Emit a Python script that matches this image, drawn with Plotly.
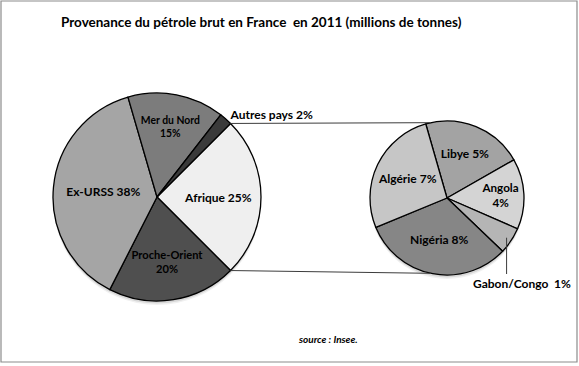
import math
import plotly.graph_objects as go

W, H = 579, 366

title_text = "Provenance du pétrole brut en France  en 2011 (millions de tonnes)"
source_text = "source : Insee."

# Main pie (percent of total)
main_labels = ["Afrique", "Proche-Orient", "Ex-URSS", "Mer du Nord", "Autres pays"]
main_values = [25, 20, 38, 15, 2]
main_text = ["Afrique 25%", "Proche-Orient<br>20%", "Ex-URSS 38%", "Mer du Nord<br>15%", "Autres pays 2%"]
main_colors = ["#efefef", "#4f4f4f", "#a5a5a5", "#7c7c7c", "#3a3a3a"]

# Secondary pie: breakdown of Afrique
afr_labels = ["Libye", "Angola", "Gabon/Congo", "Nigéria", "Algérie"]
afr_values = [5.3, 3.7, 1.4, 7.9, 6.7]
afr_text = ["Libye 5%", "Angola<br>4%", "Gabon/Congo  1%", "Nigéria 8%", "Algérie 7%"]
afr_colors = ["#a3a3a3", "#d4d4d4", "#b5b5b5", "#868686", "#c6c6c6"]

FONT = "Lato, 'Open Sans', sans-serif"

# geometry (pixels)
c1 = (157, 197); r1 = 104
c2 = (447, 198); r2 = 77

def dom(c, r):
    return dict(x=[(c[0] - r) / W, (c[0] + r) / W],
                y=[1 - (c[1] + r) / H, 1 - (c[1] - r) / H])

def px(x, y):
    return x / W, 1 - y / H

# Afrique slice is centred on 3 o'clock
afr_share = main_values[0] / sum(main_values)
half = afr_share * 180.0
rot_main = 90 - half

fig = go.Figure()
fig.add_trace(go.Pie(
    labels=main_labels, values=main_values, text=main_text,
    textinfo="text", sort=False, direction="clockwise", rotation=rot_main,
    textposition=["inside", "inside", "inside", "inside", "outside"],
    insidetextorientation="horizontal",
    marker=dict(colors=main_colors, line=dict(color="#000000", width=1.3)),
    textfont=dict(family=FONT, size=12, color="#000000", weight="bold"),
    domain=dom(c1, r1), showlegend=False, hoverinfo="label+value",
))
fig.add_trace(go.Pie(
    labels=afr_labels, values=afr_values, text=afr_text,
    textinfo="text", sort=False, direction="clockwise", rotation=-16,
    textposition=["inside", "inside", "none", "inside", "inside"],
    insidetextorientation="horizontal",
    marker=dict(colors=afr_colors, line=dict(color="#000000", width=1.3)),
    textfont=dict(family=FONT, size=12, color="#000000", weight="bold"),
    domain=dom(c2, r2), showlegend=False, hoverinfo="label+value",
))

shapes = []
# frame
shapes.append(dict(type="rect", xref="paper", yref="paper",
                   x0=1 / W, x1=577 / W, y0=1 - 362 / H, y1=1 - 1 / H,
                   line=dict(color="#8c8c8c", width=1.2)))
# soft shadows under the pies
for c, r in [(c1, r1), (c2, r2)]:
    for dy, op in [(4, 0.06), (2.5, 0.10)]:
        x0, y1 = px(c[0] - r, c[1] - r + dy)
        x1, y0 = px(c[0] + r, c[1] + r + dy)
        shapes.append(dict(type="circle", xref="paper", yref="paper", layer="below",
                           x0=x0, x1=x1, y0=y0, y1=y1,
                           fillcolor="rgba(0,0,0,%.2f)" % op, line=dict(width=0)))
# connector lines
a = math.radians(half)
p_top = (c1[0] + r1 * math.cos(a), c1[1] - r1 * math.sin(a))
p_bot = (c1[0] + r1 * math.cos(a), c1[1] + r1 * math.sin(a))
b = math.radians(12)
q_top = (c2[0] - r2 * math.sin(b), c2[1] - r2 * math.cos(b))
q_bot = (c2[0] - r2 * math.sin(b), c2[1] + r2 * math.cos(b))
for p, q in [(p_top, q_top), (p_bot, q_bot)]:
    x0, y0 = px(*p); x1, y1 = px(*q)
    shapes.append(dict(type="line", xref="paper", yref="paper", x0=x0, y0=y0, x1=x1, y1=y1,
                       line=dict(color="#3c3c3c", width=1)))
# Gabon/Congo leader line
tot = sum(afr_values)
start = -16 + 360 * sum(afr_values[:2]) / tot
mid = math.radians(start + 180 * afr_values[2] / tot)
g = (c2[0] + r2 * 0.93 * math.sin(mid), c2[1] - r2 * 0.93 * math.cos(mid))
gx, gy = px(*g)
shapes.append(dict(type="line", xref="paper", yref="paper", x0=gx, y0=gy, x1=gx, y1=1 - 274 / H,
                   line=dict(color="#3c3c3c", width=1)))

annotations = [
    dict(text="<b>" + title_text + "</b>", x=261 / W, y=1 - 22 / H, xref="paper", yref="paper",
         showarrow=False, font=dict(family=FONT, size=13.5, color="#000000"), xanchor="center", yanchor="middle"),
    dict(text="<b><i>" + source_text + "</i></b>", x=328 / W, y=1 - 339 / H, xref="paper", yref="paper",
         showarrow=False, font=dict(family=FONT, size=10, color="#000000"), xanchor="center", yanchor="middle"),
    dict(text="<b>" + afr_text[2] + "</b>", x=522 / W, y=1 - 283 / H, xref="paper", yref="paper",
         showarrow=False, font=dict(family=FONT, size=12, color="#000000"), xanchor="center", yanchor="middle"),
]

fig.update_layout(
    width=W, height=H, margin=dict(l=0, r=0, t=0, b=0),
    paper_bgcolor="#ffffff", plot_bgcolor="#ffffff",
    shapes=shapes, annotations=annotations, showlegend=False,
)

fig.write_html("out.html", config={"displayModeBar": False},
               post_script="document.body.style.margin='0';document.body.style.overflow='hidden';")
